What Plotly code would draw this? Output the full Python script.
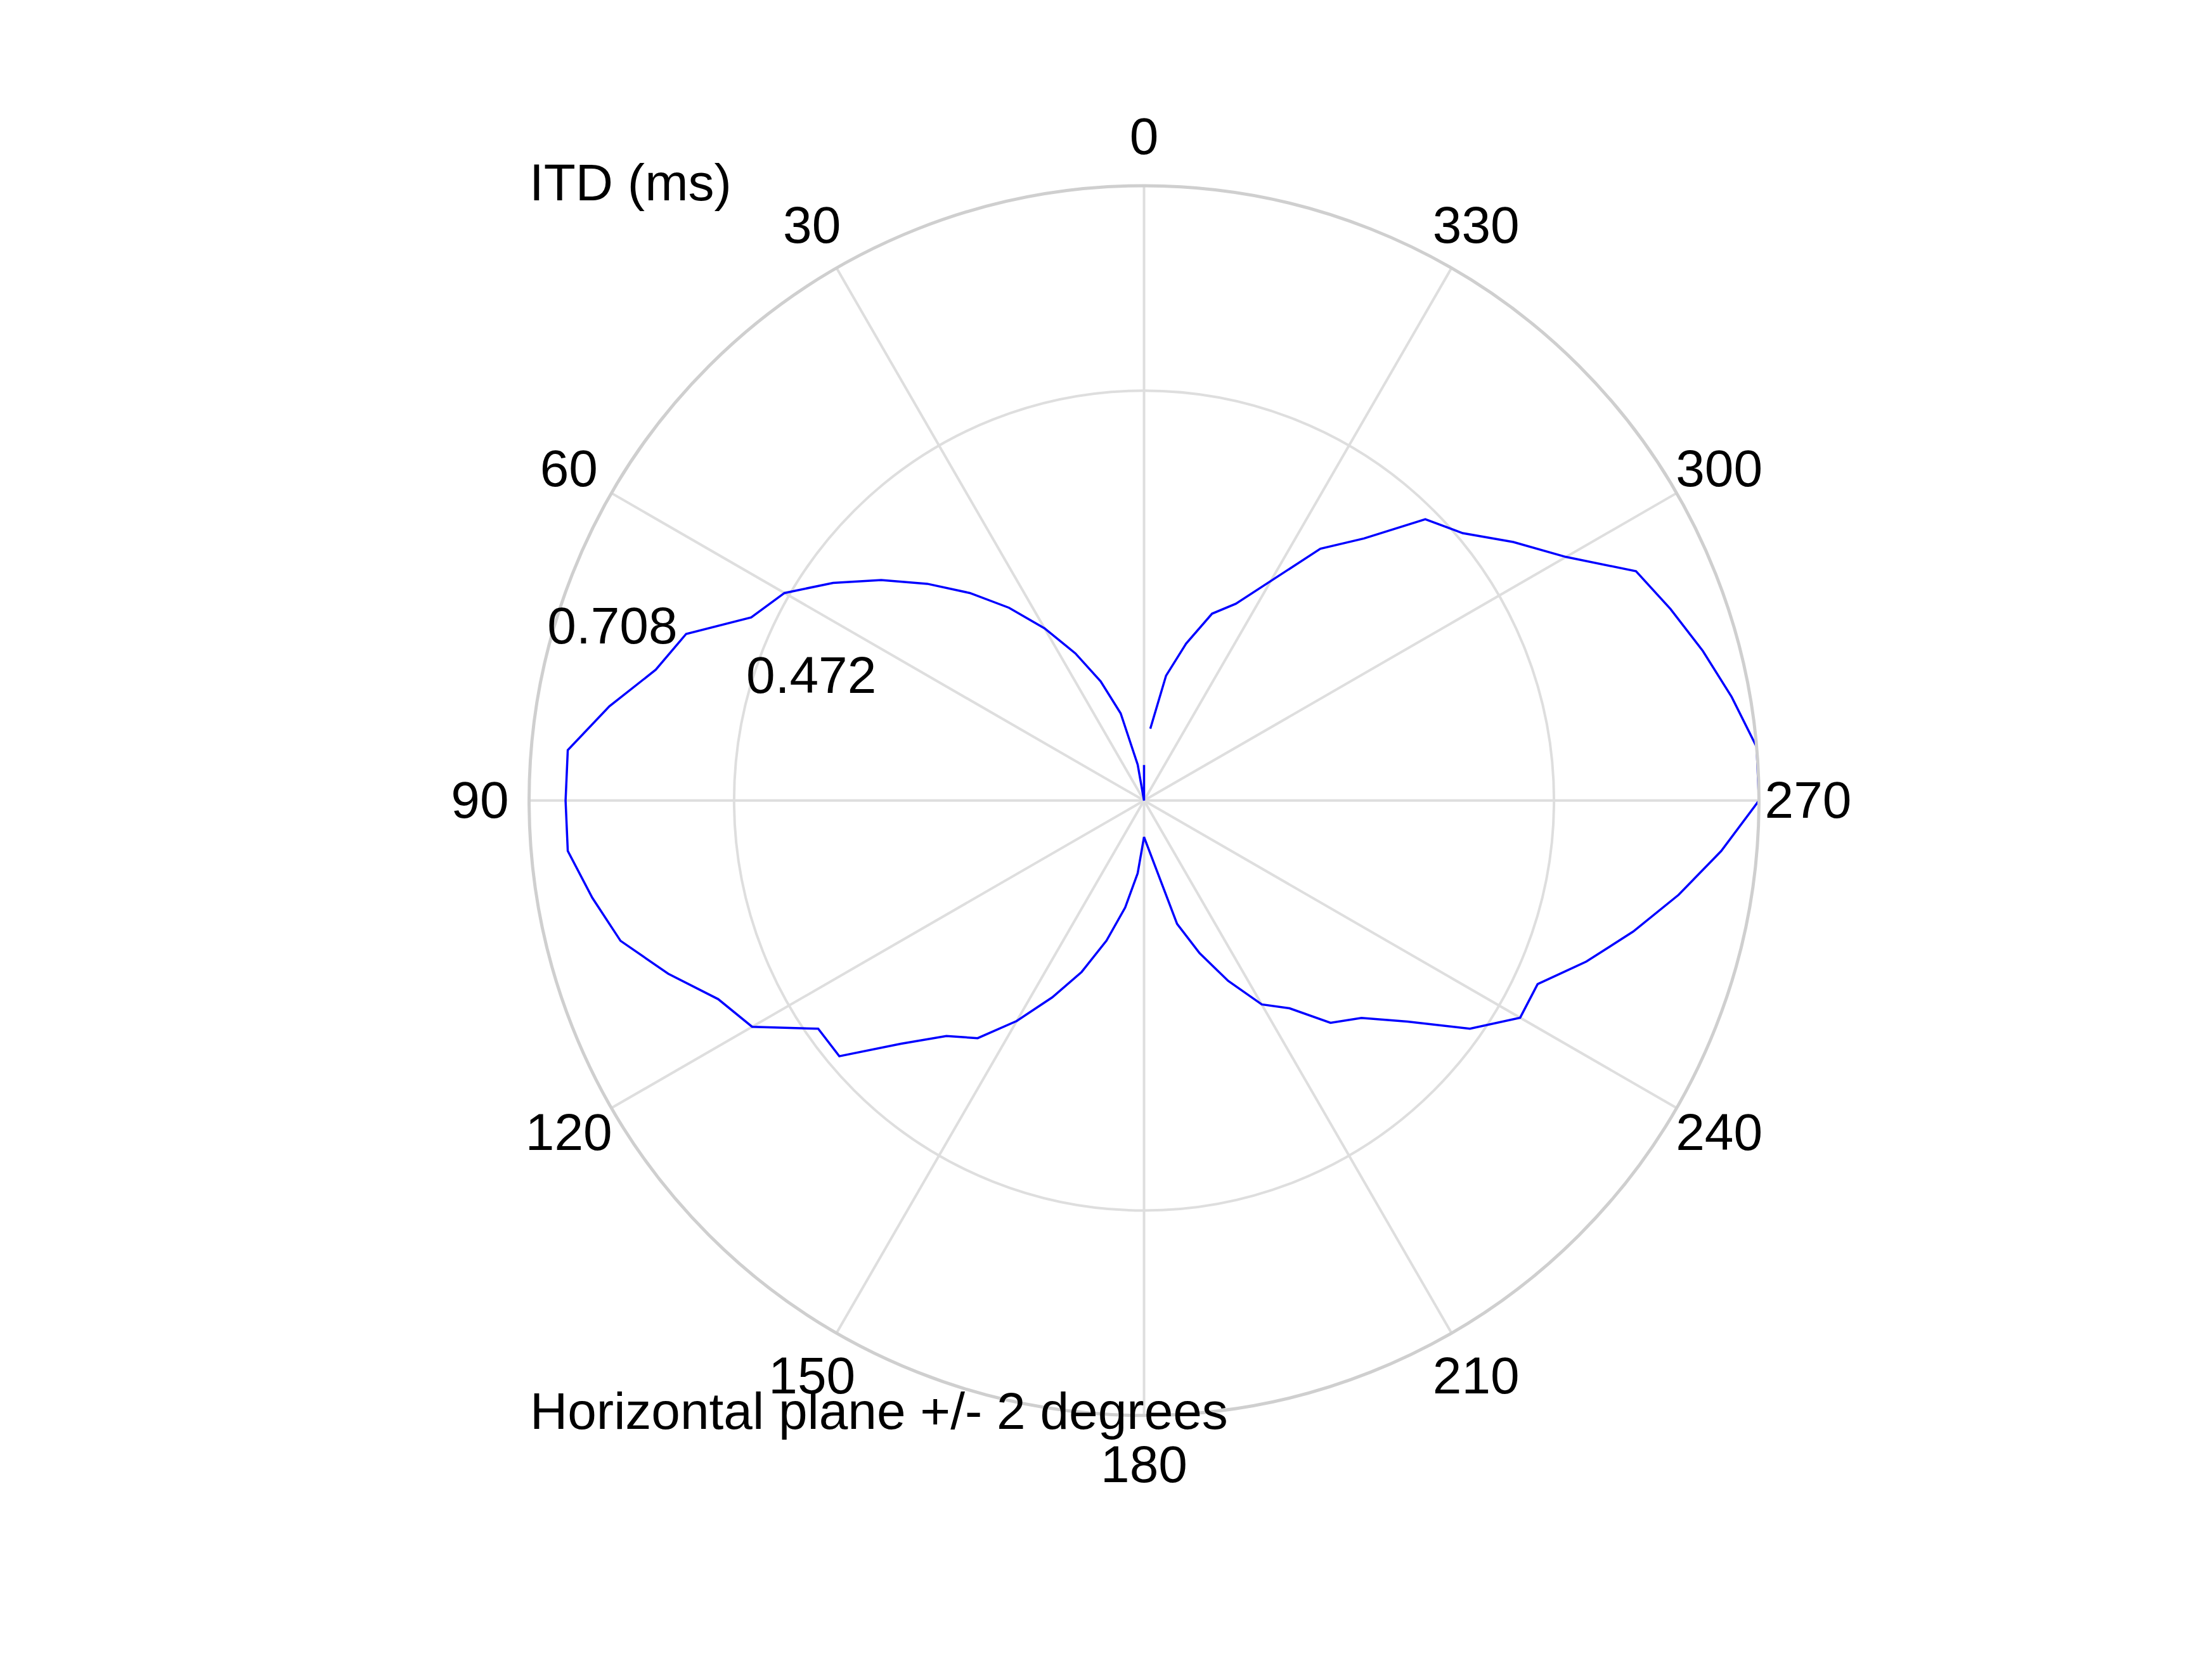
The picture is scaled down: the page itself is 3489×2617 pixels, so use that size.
import plotly.graph_objects as go

# azimuth (deg) and interaural time difference (ms), horizontal plane +/- 2 deg
azimuth = [0, 5, 10, 15, 20, 25, 30, 35, 40, 45, 50, 55, 60, 65, 70, 75, 80, 85,
           90, 95, 100, 105, 110, 115, 120, 125, 130, 135, 140, 145, 150, 155, 160,
           165, 170, 175, 180, 195, 200, 205, 210, 215, 220, 225, 230, 235, 240,
           245, 250, 255, 260, 265, 270, 275, 280, 285, 290, 295, 300, 305, 310,
           315, 320, 325, 335, 340, 345, 350, 355]
itd = [0.041, 0.000, 0.042, 0.104, 0.146, 0.187, 0.229, 0.271, 0.312, 0.353, 0.395,
       0.437, 0.478, 0.499, 0.561, 0.582, 0.625, 0.666,
       0.666, 0.666, 0.645, 0.624, 0.583, 0.541, 0.521, 0.458, 0.458, 0.396, 0.354,
       0.334, 0.293, 0.250, 0.210, 0.167, 0.125, 0.084, 0.042, 0.147, 0.187, 0.229,
       0.271, 0.292, 0.334, 0.354, 0.396, 0.458, 0.500, 0.500, 0.542, 0.583, 0.625,
       0.667, 0.708, 0.708, 0.687, 0.666, 0.645, 0.625, 0.561, 0.519, 0.479, 0.458,
       0.394, 0.354, 0.250, 0.229, 0.187, 0.146, 0.083]

angle_ticks = list(range(0, 360, 30))
r_max = 0.708
r_ticks = [0.472, 0.708]
r_tick_labels = ['0.472', '0.708']
r_label_angle = 76

FONT = 'Liberation Sans, Arial, Helvetica, sans-serif'
FSIZE = 82
GRID = '#dedede'

# main polar axes, and a bigger transparent one with the same scale (centre a
# few px lower to sit the text like MATLAB) that carries the labels
CX, CY, HX, HY = 0.5149, 0.5205, 0.278, 0.3707
K = 1.2
CY2 = CY - 0.0027

fig = go.Figure()

fig.add_trace(go.Scatterpolar(
    theta=azimuth, r=itd, mode='lines',
    line=dict(color='#0000ff', width=3.5),
    showlegend=False, hoverinfo='skip', subplot='polar'))

fig.add_trace(go.Scatterpolar(
    theta=[r_label_angle] * len(r_ticks), r=r_ticks, mode='text',
    text=r_tick_labels, textposition='top right',
    textfont=dict(family=FONT, size=FSIZE, color='black'),
    showlegend=False, hoverinfo='skip', cliponaxis=False, subplot='polar2'))

fig.add_trace(go.Scatterpolar(
    theta=angle_ticks, r=[r_max * 1.08] * len(angle_ticks), mode='text',
    text=[str(a) for a in angle_ticks], textposition='middle center',
    textfont=dict(family=FONT, size=FSIZE, color='black'),
    showlegend=False, hoverinfo='skip', cliponaxis=False, subplot='polar2'))

hidden = dict(showticklabels=False, ticks='', showgrid=False, showline=False)

fig.update_layout(
    width=3489, height=2617,
    margin=dict(l=0, r=0, t=0, b=0),
    paper_bgcolor='white',
    font=dict(family=FONT, size=FSIZE, color='black'),
    polar=dict(
        domain=dict(x=[CX - HX, CX + HX], y=[CY - HY, CY + HY]),
        bgcolor='white',
        angularaxis=dict(
            rotation=90, direction='counterclockwise',
            tickmode='array', tickvals=angle_ticks,
            showticklabels=False, ticks='',
            showgrid=True, gridcolor=GRID, gridwidth=3.5,
            showline=True, linecolor='#cfcfcf', linewidth=5),
        radialaxis=dict(
            range=[0, r_max], tickmode='array', tickvals=r_ticks,
            showticklabels=False, ticks='', showline=False,
            showgrid=True, gridcolor=GRID, gridwidth=3.5)),
    polar2=dict(
        domain=dict(x=[CX - K * HX, CX + K * HX], y=[CY2 - K * HY, CY2 + K * HY]),
        bgcolor='rgba(0,0,0,0)',
        angularaxis=dict(rotation=90, direction='counterclockwise', **hidden),
        radialaxis=dict(range=[0, K * r_max], **hidden)),
    annotations=[
        dict(text='ITD (ms)', x=0.2366, y=0.8932, xref='paper', yref='paper',
             xanchor='left', yanchor='middle', showarrow=False,
             font=dict(family=FONT, size=FSIZE, color='black')),
        dict(text='Horizontal plane +/- 2 degrees', x=0.2368, y=0.1526,
             xref='paper', yref='paper', xanchor='left', yanchor='middle',
             showarrow=False, font=dict(family=FONT, size=FSIZE, color='black')),
    ],
)

fig.write_html('out.html')
